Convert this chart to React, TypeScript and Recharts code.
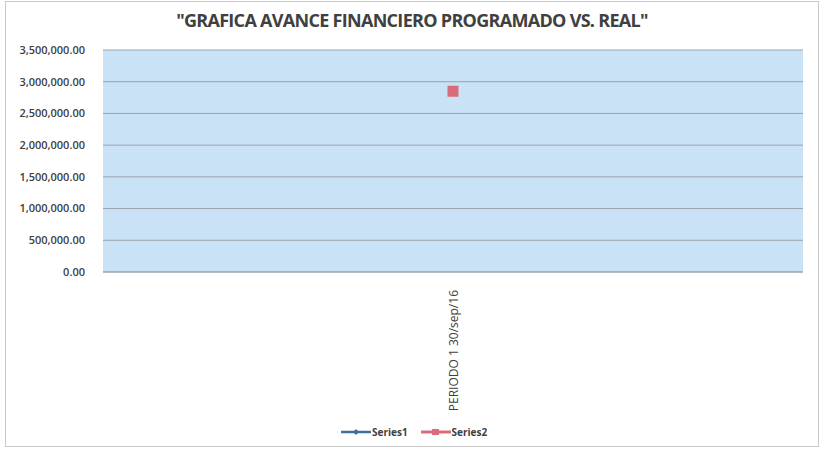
import React from "react";
import { LineChart, Line, XAxis, YAxis, CartesianGrid } from "recharts";

const categories = ["PERIODO 1 30/sep/16"];
const series1: (number | null)[] = [null];
const series2: (number | null)[] = [2850000];
const yTicks = [0, 500000, 1000000, 1500000, 2000000, 2500000, 3000000, 3500000];

const data = categories.map((c, i) => ({
  name: c,
  Series1: series1[i],
  Series2: series2[i],
}));

const fmt = (v: number) =>
  v.toLocaleString("en-US", { minimumFractionDigits: 2, maximumFractionDigits: 2 });

const font = "'Open Sans', 'Noto Sans', sans-serif";

function CatTick(props: any) {
  const { x, y, payload } = props;
  return (
    <text
      x={0}
      y={0}
      transform={`translate(${x + 5},${y + 10}) rotate(-90)`}
      textAnchor="end"
      fontSize={12}
      fill="#404040"
      fontFamily={font}
    >
      {payload.value}
    </text>
  );
}

function SquareDot(props: any) {
  const { cx, cy } = props;
  if (cx == null || cy == null) return null;
  return <rect x={cx - 5.5} y={cy - 5.5} width={11} height={11} fill="#d96b7b" />;
}

export default function App() {
  return (
    <div style={{ position: "absolute", left: 0, top: 0, width: 824, height: 449, background: "#fff", fontFamily: font }}>
      <div
        style={{
          position: "absolute",
          left: 5,
          top: 1,
          width: 812,
          height: 444,
          border: "1px solid #c8c8c8",
        }}
      />
      <div
        style={{
          position: "absolute",
          left: 0,
          top: 8,
          width: 824,
          textAlign: "center",
          fontSize: 18,
          fontWeight: 700,
          color: "#404040",
          letterSpacing: -0.7,
        }}
      >
        "GRAFICA AVANCE FINANCIERO PROGRAMADO VS. REAL"
      </div>
      <LineChart
        width={824}
        height={449}
        data={data}
        margin={{ top: 50, right: 21, left: 0, bottom: 0 }}
        style={{ position: "absolute", left: 0, top: 0 }}
      >
        <CartesianGrid fill="#cae2f6" vertical={false} stroke="#9aa3ad" strokeWidth={1} />
        <YAxis
          width={103}
          domain={[0, 3500000]}
          ticks={yTicks}
          tickFormatter={fmt}
          axisLine={false}
          tickLine={false}
          tickMargin={12}
          tick={{ fontSize: 11, fill: "#404040", fontFamily: font, fontWeight: 600 }}
        />
        <XAxis
          dataKey="name"
          height={177}
          interval={0}
          axisLine={{ stroke: "#9aa3ad" }}
          tickLine={false}
          tick={<CatTick />}
        />
        <Line
          dataKey="Series1"
          stroke="#3f6f9e"
          strokeWidth={2}
          dot={false}
          isAnimationActive={false}
        />
        <Line
          dataKey="Series2"
          stroke="#d96b7b"
          strokeWidth={2}
          dot={<SquareDot />}
          isAnimationActive={false}
        />
      </LineChart>
      <div
        style={{
          position: "absolute",
          top: 425,
          left: 340,
          display: "flex",
          alignItems: "center",
          fontSize: 10,
          fontWeight: 700,
          color: "#404040",
        }}
      >
        <svg width={32} height={10}>
          <line x1={1} y1={5} x2={31} y2={5} stroke="#3f6f9e" strokeWidth={2.5} />
          <path d="M16 2 L19 5 L16 8 L13 5 Z" fill="#3f6f9e" />
        </svg>
        <span style={{ marginRight: 12 }}>Series1</span>
        <svg width={32} height={10}>
          <line x1={1} y1={5} x2={31} y2={5} stroke="#d96b7b" strokeWidth={3} />
          <rect x={12} y={2} width={7} height={6} fill="#d96b7b" />
        </svg>
        <span>Series2</span>
      </div>
    </div>
  );
}
